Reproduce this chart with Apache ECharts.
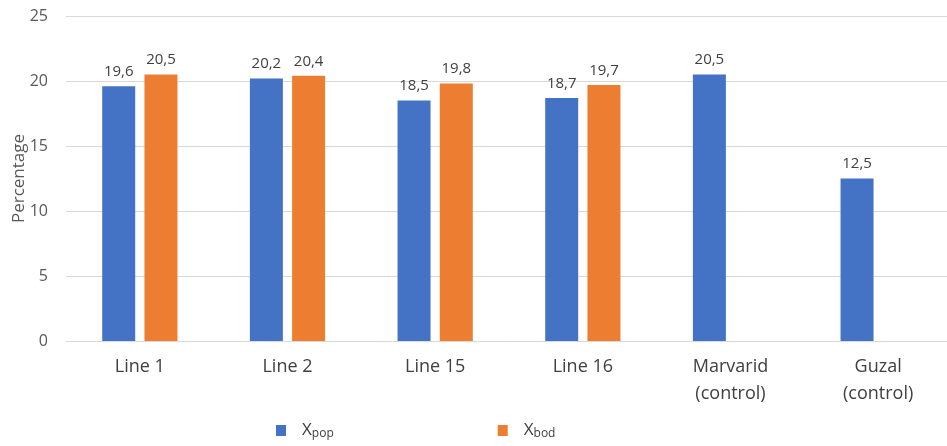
<!DOCTYPE html>
<html><head><meta charset="utf-8">
<script src="https://cdn.jsdelivr.net/npm/echarts@6/dist/echarts.min.js"></script>
<style>html,body{margin:0;padding:0;background:#fff}#c{width:947px;height:446px}</style>
</head><body><div id="c"></div>
<script>
const categories = ['Line 1', 'Line 2', 'Line 15', 'Line 16', 'Marvarid\n(control)', 'Guzal\n(control)'];
const xpop = [19.6, 20.2, 18.5, 18.7, 20.5, 12.5];
const xbod = [20.5, 20.4, 19.8, 19.7, null, null];
const yTicks = [0, 5, 10, 15, 20, 25];
const FONT = 'Open Sans';
const chart = echarts.init(document.getElementById('c'));
const lbl = {
  show: true, position: 'top', distance: 7, color: '#404040', fontSize: 15, fontFamily: FONT,
  formatter: p => p.value == null ? '' : p.value.toFixed(1).replace('.', ',')
};
chart.setOption({
  animation: false,
  grid: { left: 66, width: 886, top: 16, bottom: 105, outerBoundsMode: 'none', containLabel: false },
  legend: {
    bottom: 1, left: 271, itemWidth: 10, itemHeight: 11, itemGap: 164, icon: 'rect',
    data: ['Xpop', 'Xbod'],
    formatter: n => '{x|X}{s|' + n.slice(1) + '}',
    textStyle: {
      fontFamily: FONT, color: '#404040', padding: [0, 0, 0, 11],
      rich: { x: { fontSize: 17, fontFamily: FONT, color: '#404040' }, s: { fontSize: 12, fontFamily: FONT, color: '#404040', padding: [7, 0, 0, 0] } }
    }
  },
  xAxis: {
    type: 'category', data: categories,
    axisLine: { lineStyle: { color: '#d9d9d9' } }, axisTick: { show: false },
    axisLabel: { color: '#404040', fontSize: 18, fontFamily: FONT, lineHeight: 27, margin: 12, interval: 0 }
  },
  yAxis: {
    type: 'value', min: 0, max: 25, interval: 5,
    name: 'Percentage', nameLocation: 'middle', nameGap: 38, nameRotate: 90, nameMoveOverlap: false,
    nameTextStyle: { color: '#595959', fontSize: 17, fontFamily: FONT },
    axisLine: { show: false }, axisTick: { show: false },
    axisLabel: { color: '#595959', fontSize: 16, fontFamily: FONT, margin: 18,
      formatter: v => yTicks.includes(v) ? String(v) : '' },
    splitLine: { lineStyle: { color: '#d9d9d9' } }
  },
  series: [
    { name: 'Xpop', type: 'bar', data: xpop, barWidth: 33, barGap: '28%', itemStyle: { color: '#4472C4' }, label: lbl },
    { name: 'Xbod', type: 'bar', data: xbod, barWidth: 33, itemStyle: { color: '#ED7D31' }, label: lbl }
  ]
});
</script></body></html>
